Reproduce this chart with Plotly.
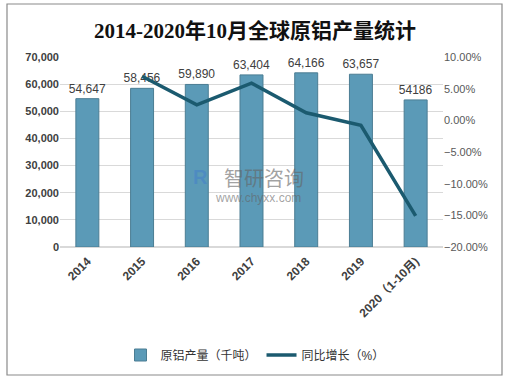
import plotly.graph_objects as go

categories = ["2014", "2015", "2016", "2017", "2018", "2019", "2020（1-10月)"]
production = [54647, 58456, 59890, 63404, 64166, 63657, 54186]
production_labels = ["54,647", "58,456", "59,890", "63,404", "64,166", "63,657", "54186"]
growth_pct = [None, 6.97, 2.45, 5.87, 1.20, -0.79, -15.1]

W, H = 517, 383
ml, mr, mt, mb = 60, 74, 57, 136
pw, ph = W - ml - mr, H - mt - mb

def px(x):
    return (x - ml) / pw

def py(y):
    return (H - mb - y) / ph

fig = go.Figure()
fig.add_trace(go.Bar(
    x=categories, y=production, name="原铝产量（千吨）",
    text=production_labels, textposition="outside", cliponaxis=False,
    constraintext="none",
    textfont=dict(size=12, color="#404040", family="Liberation Sans, Noto Sans CJK SC"),
    marker=dict(color="#5b9ab7", line=dict(color="#4b7d93", width=1)),
    width=0.42,
))
fig.add_trace(go.Scatter(
    x=categories, y=growth_pct, name="同比增长（%）", yaxis="y2",
    mode="lines", line=dict(color="#1b5a6f", width=3.5),
))

fig.update_layout(
    width=W, height=H,
    margin=dict(l=ml, r=mr, t=mt, b=mb, autoexpand=False),
    paper_bgcolor="white", plot_bgcolor="white",
    font=dict(family="Liberation Sans, Noto Sans CJK SC", color="#404040"),
    title=dict(
        text="<b>2014-2020年10月全球原铝产量统计</b>",
        x=255 / W, xanchor="center", y=1 - 31 / H, yanchor="middle",
        font=dict(size=21, color="#111111", family="Liberation Serif, Noto Sans CJK SC"),
    ),
    xaxis=dict(
        tickangle=-45, tickfont=dict(size=12, color="#404040"),
        showgrid=False, showline=False, ticks="", automargin=False,
        ticklabelstandoff=4,
        tickprefix="<b>", ticksuffix="</b>",
    ),
    yaxis=dict(
        range=[0, 70000], dtick=10000, tickformat=",d",
        tickfont=dict(size=11, color="#404040"),
        tickprefix="<b>", ticksuffix="</b>", automargin=False,
        showgrid=True, gridcolor="#d9d9d9", gridwidth=1,
        zeroline=True, zerolinecolor="#d9d9d9", showline=False, ticks="",
    ),
    yaxis2=dict(
        overlaying="y", side="right", range=[-20, 10], dtick=5,
        tickformat=".2f", ticksuffix="%", automargin=False,
        tickfont=dict(size=11, color="#595959"),
        showgrid=False, zeroline=False, showline=False, ticks="",
    ),
    legend=dict(
        orientation="h", x=255 / W, xref="container", xanchor="center",
        y=1 - 355 / H, yref="container", yanchor="middle",
        font=dict(size=12, color="#333333"),
        itemwidth=30,
    ),
    bargap=0.5,
    showlegend=True,
)

fig.add_shape(type="rect", xref="paper", yref="paper",
              x0=px(7), x1=px(502), y0=py(375), y1=py(4),
              line=dict(color="#8a8a8a", width=1.2), fillcolor="rgba(0,0,0,0)", layer="below")

# watermark
fig.add_annotation(xref="paper", yref="paper", x=px(264), y=py(177),
                   text="智研咨询", showarrow=False,
                   font=dict(size=20, color="rgba(100,100,100,0.6)", family="Noto Sans CJK SC"))
fig.add_annotation(xref="paper", yref="paper", x=px(200), y=py(177),
                   text="<b>R</b>", showarrow=False,
                   font=dict(size=20, color="rgba(70,130,200,0.6)", family="Liberation Sans"))
fig.add_annotation(xref="paper", yref="paper", x=px(258), y=py(207),
                   text="www.chyxx.com", showarrow=False,
                   font=dict(size=12, color="rgba(100,100,100,0.6)", family="Liberation Sans"))

fig.write_html("out.html", post_script="document.body.style.margin='0';",
               config={"displayModeBar": False})
